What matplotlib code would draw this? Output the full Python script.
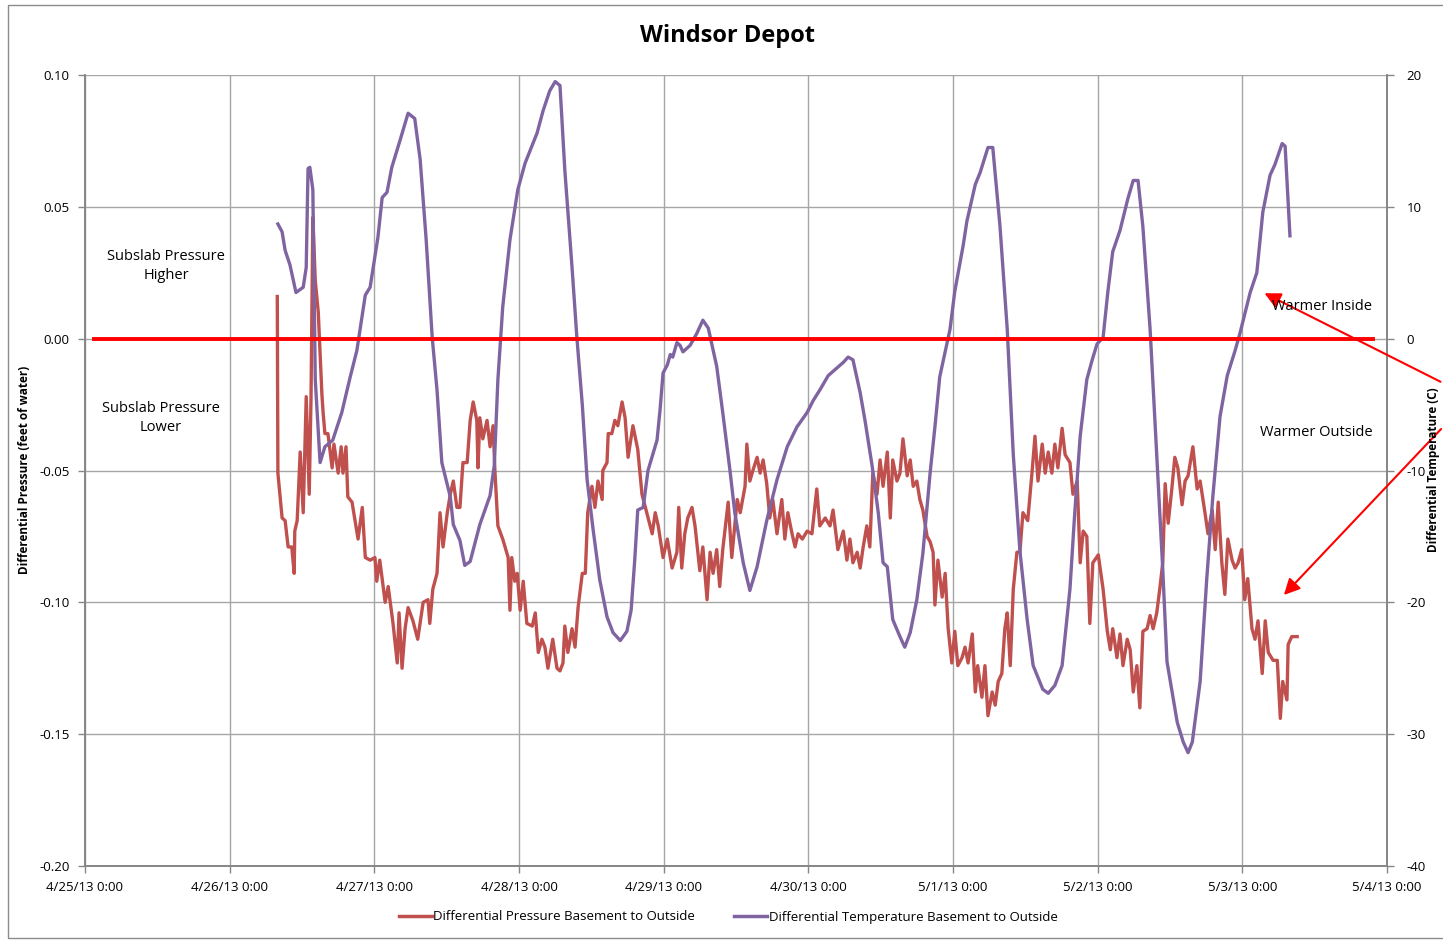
import matplotlib
matplotlib.use("Agg")
import matplotlib.pyplot as plt
from matplotlib.lines import Line2D
from matplotlib.patches import Rectangle

plt.rcParams['font.family'] = ['Open Sans', 'DejaVu Sans']

# hours since 4/25/13 0:00
x_tick_hours = [0, 24, 48, 72, 96, 120, 144, 168, 192, 216]
x_tick_labels = ["4/25/13 0:00", "4/26/13 0:00", "4/27/13 0:00", "4/28/13 0:00",
                 "4/29/13 0:00", "4/30/13 0:00", "5/1/13 0:00", "5/2/13 0:00",
                 "5/3/13 0:00", "5/4/13 0:00"]
press_ticks = [-0.20, -0.15, -0.10, -0.05, 0.00, 0.05, 0.10]
temp_ticks = [-40, -30, -20, -10, 0, 10, 20]

# differential pressure basement to outside (feet of water)
press_h = [31.9, 32.0, 32.7, 33.2, 33.7, 34.3, 34.7, 34.8, 35.2, 35.7, 36.2, 36.7, 37.2, 37.5,
           37.8, 38.2, 38.7, 39.3, 39.5, 39.8, 40.3, 41.0, 41.3, 42.0, 42.5, 42.8, 43.3, 43.6,
           44.3, 44.8, 45.3, 46.0, 46.5, 47.3, 48.1, 48.4, 48.9, 49.8, 50.3, 51.1, 51.8, 52.1,
           52.6, 53.1, 53.6, 54.4, 55.2, 56.1, 56.9, 57.2, 57.7, 58.4, 58.9, 59.4, 60.1, 60.6,
           61.1, 61.7, 62.2, 62.7, 63.4, 63.9, 64.4, 65.0, 65.2, 65.5, 66.0, 66.7, 67.2, 67.7,
           68.0, 68.5, 69.3, 70.2, 70.5, 70.8, 71.3, 71.7, 72.2, 72.7, 73.3, 74.2, 74.7, 75.2,
           75.8, 76.3, 76.8, 77.6, 78.3, 78.8, 79.3, 79.6, 80.1, 80.8, 81.3, 81.8, 82.5, 83.0,
           83.4, 84.1, 84.6, 85.1, 85.8, 85.9, 86.6, 86.8, 87.4, 87.9, 88.4, 89.1, 89.6, 90.1,
           90.9, 91.7, 92.4, 93.2, 94.1, 94.6, 95.1, 95.9, 96.6, 97.4, 98.2, 98.5, 99.0, 99.5,
           100.0, 100.7, 101.2, 102.0, 102.5, 103.2, 103.7, 104.2, 104.8, 105.3, 105.8, 106.7,
           107.3, 108.2, 108.7, 109.5, 109.8, 110.3, 110.8, 111.5, 112.0, 112.5, 113.1, 113.6,
           114.1, 114.8, 115.6, 116.1, 116.6, 117.3, 117.8, 118.3, 119.0, 119.8, 120.6, 121.4,
           121.9, 122.8, 123.6, 124.1, 124.9, 125.8, 126.4, 126.9, 127.4, 128.1, 128.6, 129.1,
           129.7, 130.2, 130.7, 131.4, 131.9, 132.4, 133.1, 133.6, 134.0, 134.7, 135.2, 135.7,
           136.4, 136.9, 137.4, 138.0, 138.5, 139.0, 139.7, 140.2, 140.7, 141.0, 141.5, 142.2,
           142.7, 143.2, 143.8, 144.3, 144.8, 145.5, 146.0, 146.5, 147.2, 147.7, 148.1, 148.8,
           149.3, 149.8, 150.5, 151.0, 151.5, 152.1, 152.6, 153.0, 153.5, 154.0, 154.6, 155.1,
           155.6, 156.4, 157.1, 157.6, 158.1, 158.8, 159.3, 159.8, 160.4, 160.9, 161.4, 162.1,
           162.6, 163.4, 163.9, 164.6, 165.1, 165.6, 166.2, 166.7, 167.2, 168.1, 168.9, 169.6,
           170.1, 170.5, 171.2, 171.7, 172.2, 172.9, 173.4, 173.9, 174.5, 175.0, 175.5, 176.2,
           176.7, 177.2, 177.8, 178.3, 178.8, 179.2, 179.7, 180.3, 180.8, 181.3, 182.0, 182.5,
           183.0, 183.8, 184.5, 185.0, 185.8, 186.3, 187.0, 187.5, 188.0, 188.6, 189.1, 189.6,
           190.3, 190.8, 191.3, 191.9, 192.4, 192.9, 193.6, 194.1, 194.6, 195.3, 195.8, 196.3,
           197.1, 197.8, 198.3, 198.7, 199.4, 199.6, 200.2, 201.1]
press_v = [0.016, -0.051, -0.068, -0.069, -0.079, -0.079, -0.089, -0.073, -0.069, -0.043, -0.066,
           -0.022, -0.059, -0.022, 0.046, 0.022, 0.010, -0.021, -0.028, -0.036, -0.036, -0.049,
           -0.040, -0.051, -0.041, -0.051, -0.041, -0.060, -0.062, -0.069, -0.076, -0.064, -0.083,
           -0.084, -0.083, -0.092, -0.084, -0.100, -0.094, -0.108, -0.123, -0.104, -0.125, -0.110,
           -0.102, -0.107, -0.114, -0.100, -0.099, -0.108, -0.095, -0.089, -0.066, -0.079, -0.066,
           -0.059, -0.054, -0.064, -0.064, -0.047, -0.047, -0.031, -0.024, -0.031, -0.049, -0.030,
           -0.038, -0.031, -0.041, -0.033, -0.050, -0.071, -0.076, -0.083, -0.103, -0.083, -0.092,
           -0.089, -0.103, -0.092, -0.108, -0.109, -0.104, -0.119, -0.114, -0.117, -0.125, -0.114,
           -0.125, -0.126, -0.123, -0.109, -0.119, -0.110, -0.117, -0.102, -0.089, -0.089, -0.066,
           -0.056, -0.064, -0.054, -0.061, -0.050, -0.047, -0.036, -0.036, -0.031, -0.033, -0.024,
           -0.030, -0.045, -0.033, -0.042, -0.059, -0.066, -0.074, -0.066, -0.071, -0.083, -0.076,
           -0.087, -0.081, -0.064, -0.087, -0.074, -0.068, -0.064, -0.071, -0.088, -0.079, -0.099,
           -0.081, -0.089, -0.080, -0.094, -0.080, -0.062, -0.083, -0.061, -0.066, -0.056, -0.040,
           -0.054, -0.050, -0.045, -0.051, -0.046, -0.055, -0.068, -0.061, -0.074, -0.061, -0.076,
           -0.066, -0.074, -0.079, -0.074, -0.076, -0.073, -0.074, -0.057, -0.071, -0.068, -0.071,
           -0.065, -0.080, -0.073, -0.084, -0.076, -0.085, -0.081, -0.087, -0.079, -0.071, -0.079,
           -0.051, -0.059, -0.046, -0.056, -0.043, -0.068, -0.046, -0.054, -0.051, -0.038, -0.052,
           -0.046, -0.056, -0.054, -0.061, -0.065, -0.075, -0.077, -0.081, -0.101, -0.084, -0.098,
           -0.089, -0.110, -0.123, -0.111, -0.124, -0.121, -0.117, -0.123, -0.112, -0.134, -0.124,
           -0.136, -0.124, -0.143, -0.134, -0.139, -0.130, -0.127, -0.110, -0.104, -0.124, -0.095,
           -0.081, -0.081, -0.066, -0.069, -0.051, -0.037, -0.054, -0.040, -0.051, -0.043, -0.051,
           -0.040, -0.049, -0.034, -0.044, -0.047, -0.059, -0.054, -0.085, -0.073, -0.075, -0.108,
           -0.085, -0.082, -0.095, -0.111, -0.118, -0.110, -0.121, -0.112, -0.124, -0.114, -0.118,
           -0.134, -0.124, -0.140, -0.111, -0.110, -0.105, -0.110, -0.104, -0.095, -0.085, -0.055,
           -0.070, -0.057, -0.045, -0.049, -0.063, -0.054, -0.052, -0.041, -0.057, -0.054, -0.066,
           -0.074, -0.065, -0.080, -0.062, -0.085, -0.097, -0.076, -0.084, -0.087, -0.085, -0.080,
           -0.099, -0.091, -0.110, -0.114, -0.107, -0.127, -0.107, -0.119, -0.122, -0.122, -0.144,
           -0.130, -0.137, -0.116, -0.113, -0.113]

# differential temperature basement to outside (C)
temp_h = [32.0, 32.7, 33.2, 34.0, 35.0, 36.2, 36.7, 37.0, 37.3, 37.8, 38.2, 39.0, 39.8, 41.1,
          42.6, 44.0, 45.1, 46.5, 47.3, 48.6, 49.3, 50.1, 50.9, 52.3, 53.6, 54.7, 55.6, 56.6,
          57.6, 58.4, 59.2, 60.6, 61.1, 62.2, 63.0, 63.9, 65.5, 67.2, 67.9, 68.5, 69.3, 70.5,
          71.8, 73.0, 75.0, 76.0, 77.1, 78.0, 78.8, 79.6, 80.8, 81.6, 82.5, 83.3, 84.3, 85.4,
          86.6, 87.6, 88.8, 89.9, 90.6, 91.2, 91.7, 92.6, 93.4, 94.9, 95.4, 95.9, 96.6, 97.1,
          97.5, 98.2, 98.7, 99.2, 100.4, 101.5, 102.5, 103.4, 104.8, 105.8, 107.0, 107.8, 109.2,
          110.3, 111.5, 113.1, 114.8, 116.5, 118.1, 119.8, 120.8, 121.9, 123.3, 124.8, 125.8,
          126.6, 127.4, 128.6, 129.4, 130.6, 131.6, 132.4, 133.1, 134.0, 135.2, 136.0, 136.9,
          138.0, 139.0, 140.2, 141.0, 141.8, 143.5, 144.3, 145.7, 146.3, 147.7, 148.5, 149.8,
          150.6, 151.8, 153.0, 154.0, 155.1, 156.3, 157.3, 158.9, 159.8, 160.9, 162.1, 163.4,
          164.2, 165.1, 166.2, 167.1, 167.9, 168.9, 169.7, 170.5, 171.7, 173.0, 173.9, 174.7,
          175.5, 176.7, 177.8, 178.8, 179.5, 181.2, 182.2, 183.0, 183.7, 185.0, 186.1, 187.1,
          188.3, 189.5, 190.8, 191.6, 193.3, 194.4, 195.4, 196.6, 197.4, 198.6, 199.1, 199.9]
temp_v = [8.7, 8.1, 6.7, 5.6, 3.5, 3.9, 5.4, 12.9, 13.0, 11.3, -3.1, -9.4, -8.2, -7.7, -5.6,
          -2.9, -0.9, 3.3, 3.9, 7.7, 10.7, 11.1, 13.0, 15.1, 17.1, 16.7, 13.6, 7.5, 0.1, -3.9,
          -9.4, -12.0, -14.1, -15.3, -17.2, -16.9, -14.1, -11.9, -9.6, -3.1, 2.4, 7.5, 11.3,
          13.3, 15.6, 17.3, 18.8, 19.5, 19.2, 12.8, 5.4, 0.1, -5.0, -10.7, -14.5, -18.3, -21.1,
          -22.3, -22.9, -22.2, -20.6, -16.8, -13.0, -12.8, -10.0, -7.7, -5.4, -2.6, -2.0, -1.2,
          -1.4, -0.3, -0.5, -1.0, -0.5, 0.4, 1.4, 0.8, -2.1, -5.6, -10.0, -13.2, -17.0, -19.1,
          -17.3, -13.8, -10.7, -8.2, -6.7, -5.6, -4.7, -3.9, -2.8, -2.2, -1.8, -1.4, -1.6, -4.1,
          -6.2, -9.7, -13.2, -17.0, -17.3, -21.3, -22.6, -23.4, -22.3, -19.8, -16.3, -10.2, -6.7,
          -2.9, 0.7, 3.6, 7.1, 8.9, 11.7, 12.6, 14.5, 14.5, 8.5, 0.7, -8.8, -16.1, -21.3, -24.8,
          -26.6, -26.9, -26.3, -24.8, -19.0, -13.2, -7.4, -3.1, -1.6, -0.4, 0.1, 3.6, 6.6, 8.2,
          10.6, 12.0, 12.0, 8.5, 0.7, -8.8, -17.5, -24.5, -29.1, -30.6, -31.4, -30.6, -26.0,
          -18.2, -12.0, -5.9, -2.8, -0.9, 0.4, 3.5, 5.0, 9.6, 12.4, 13.2, 14.8, 14.6, 7.8]

press_color = "#C0504D"
temp_color = "#8064A2"
grid_color = "#A6A6A6"

W, H = 1443, 940
fig = plt.figure(figsize=(W / 100, H / 100), dpi=100)
fig.patches.append(Rectangle((8 / W, 0.002), 1.0, 1 - 5 / H - 0.002, transform=fig.transFigure,
                             fill=False, edgecolor="#8C8C8C", linewidth=1.0))

ax = fig.add_axes([85 / W, 74 / H, 1302 / W, 791 / H])
ax2 = ax.twinx()

ax.plot(press_h, press_v, color=press_color, linewidth=2.4, solid_joinstyle="round")
ax2.plot(temp_h, temp_v, color=temp_color, linewidth=2.4, solid_joinstyle="round")

ax.set_xlim(0, 216)
ax.set_ylim(-0.20, 0.10)
ax2.set_ylim(-40, 20)
ax.set_xticks(x_tick_hours)
ax.set_xticklabels(x_tick_labels)
ax.set_yticks(press_ticks)
ax.set_yticklabels([f"{v:.2f}" for v in press_ticks])
ax2.set_yticks(temp_ticks)
ax2.set_yticklabels([str(v) for v in temp_ticks])

ax.grid(True, color=grid_color, linewidth=1.0)
ax.set_axisbelow(True)
for a in (ax, ax2):
    a.spines["top"].set_visible(False)
    for side in ("left", "right", "bottom"):
        a.spines[side].set_color("#868686")
        a.spines[side].set_linewidth(1.2)
    a.tick_params(colors="#868686", labelcolor="black", labelsize=9.5, length=5, width=1)
ax.tick_params(axis="x", pad=6)
ax.tick_params(axis="y", pad=6)
ax2.tick_params(axis="y", pad=9)

# zero line
ax2.plot([0.007, 0.989], [0, 0], transform=ax2.get_yaxis_transform(), color="#FF0000",
         linewidth=2.8, zorder=10)

fig.text(727 / W, 1 - 36 / H, "Windsor Depot", ha="center", va="center",
         fontsize=17, fontweight="bold")
fig.text(25 / W, 1 - 470 / H, "Differential Pressure (feet of water)", rotation=90,
         ha="center", va="center", fontsize=8.5, fontweight="bold")
fig.text(1434 / W, 1 - 470 / H, "Differential Temperature (C)", rotation=90,
         ha="center", va="center", fontsize=8.5, fontweight="bold")

fig.text(166 / W, 1 - 266 / H, "Subslab Pressure\nHigher", ha="center", va="center",
         fontsize=10.5, linespacing=1.4)
fig.text(161 / W, 1 - 418 / H, "Subslab Pressure\nLower", ha="center", va="center",
         fontsize=10.5, linespacing=1.4)
fig.text(1322 / W, 1 - 306 / H, "Warmer Inside", ha="center", va="center", fontsize=10.5)
fig.text(1316 / W, 1 - 432 / H, "Warmer Outside", ha="center", va="center", fontsize=10.5)

arrow_style = dict(arrowstyle="-|>", color="#FF0000", lw=1.5, mutation_scale=24)
ax2.annotate("", xy=(1262, H - 292), xycoords="figure pixels",
             xytext=(1443, H - 383), textcoords="figure pixels",
             arrowprops=arrow_style, annotation_clip=False, zorder=11)
ax2.annotate("", xy=(1282, H - 597), xycoords="figure pixels",
             xytext=(1443, H - 427), textcoords="figure pixels",
             arrowprops=arrow_style, annotation_clip=False, zorder=11)

handles = [Line2D([], [], color=press_color, linewidth=2.5),
           Line2D([], [], color=temp_color, linewidth=2.5)]
fig.legend(handles, ["Differential Pressure Basement to Outside",
                     "Differential Temperature Basement to Outside"],
           loc="center", bbox_to_anchor=(728 / W, 1 - 917 / H), ncol=2, frameon=False,
           fontsize=9.5, handlelength=2.5, handletextpad=0.1, columnspacing=3.0)

fig.savefig("out.png", dpi=100)
